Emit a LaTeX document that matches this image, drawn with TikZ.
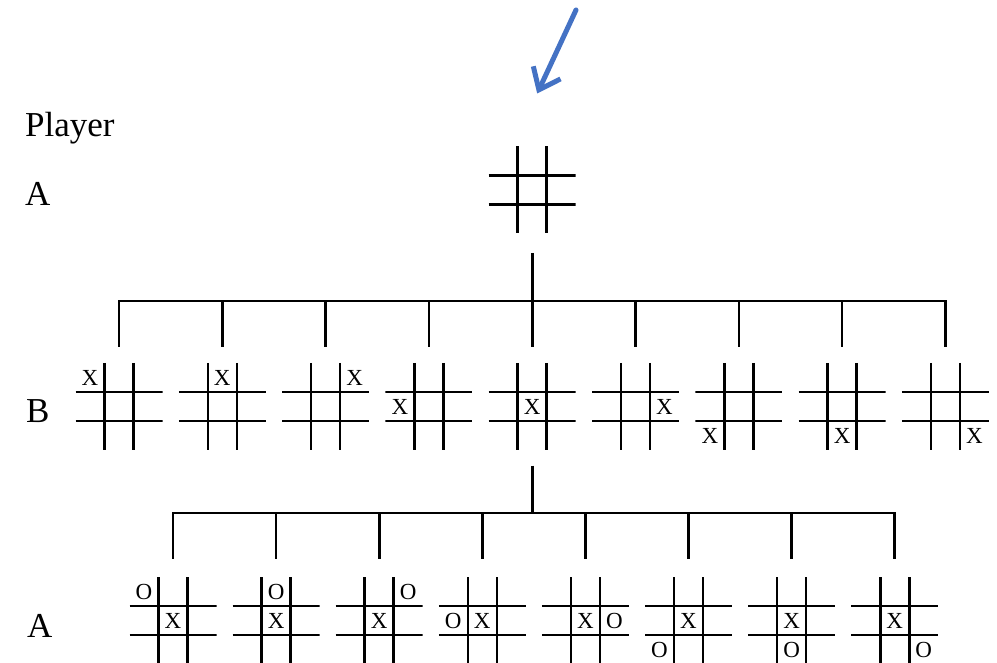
\documentclass[tikz,border=0pt]{standalone}
\usepackage{fontspec}
\setmainfont{Liberation Serif}
\usepackage{tikz}
\usetikzlibrary{arrows.meta, positioning}
\definecolor{pointerblue}{HTML}{4472C4}

\begin{document}
\begin{tikzpicture}[
    x=1pt, y=1pt,
    gridline/.style={line width=2.6pt, draw=black},
    board/.style={
      rectangle,
      inner sep=0pt,
      outer sep=0pt,
      minimum size=87pt,
      path picture={
        \draw[gridline] ([xshift=-14.5pt]path picture bounding box.north) -- ([xshift=-14.5pt]path picture bounding box.south);
        \draw[gridline] ([xshift=14.5pt]path picture bounding box.north) -- ([xshift=14.5pt]path picture bounding box.south);
        \draw[gridline] ([yshift=14.5pt]path picture bounding box.west) -- ([yshift=14.5pt]path picture bounding box.east);
        \draw[gridline] ([yshift=-14.5pt]path picture bounding box.west) -- ([yshift=-14.5pt]path picture bounding box.east);
      }
    },
    cellmark/.style={inner sep=0pt, font=\fontsize{23}{25}\selectfont},
    player/.style={anchor=base west, inner sep=0pt, font=\fontsize{35}{40}\selectfont},
    branch/.style={line width=2.6pt, draw=black},
    pointer/.style={-{Straight Barb[length=19pt, width=30pt]}, line width=5pt, line cap=round, draw=pointerblue}
  ]
    \useasboundingbox (0,0) rectangle (997,-663);

    % player column
    \node[player] (lblplayer) at (25,-137) {Player};
    \node[player] (lbltop) at (25,-206) {A};
    \node[player] (lblmid) at (26,-422) {B};
    \node[player] (lblbot) at (27,-637) {A};

    % empty board and pointer
    \node[board] (root) at (532.2,-190) {};
    \coordinate (pointstart) at (576,-10);
    \draw[pointer] (pointstart) -- ([shift={(5pt,53pt)}]root.north);

    % first move
    \node[board] (b1) at (119,-406.5) {};
    \node[board, right=16.3pt of b1] (b2) {};
    \node[board, right=16.3pt of b2] (b3) {};
    \node[board, right=16.3pt of b3] (b4) {};
    \node[board, right=16.3pt of b4] (b5) {};
    \node[board, right=16.3pt of b5] (b6) {};
    \node[board, right=16.3pt of b6] (b7) {};
    \node[board, right=16.3pt of b7] (b8) {};
    \node[board, right=16.3pt of b8] (b9) {};

    \node[cellmark] (b1x) at ([shift={(-29pt,29pt)}]b1) {X};
    \node[cellmark] (b2x) at ([shift={(0pt,29pt)}]b2) {X};
    \node[cellmark] (b3x) at ([shift={(29pt,29pt)}]b3) {X};
    \node[cellmark] (b4x) at ([shift={(-29pt,0pt)}]b4) {X};
    \node[cellmark] (b5x) at (b5) {X};
    \node[cellmark] (b6x) at ([shift={(29pt,0pt)}]b6) {X};
    \node[cellmark] (b7x) at ([shift={(-29pt,-29pt)}]b7) {X};
    \node[cellmark] (b8x) at ([shift={(0pt,-29pt)}]b8) {X};
    \node[cellmark] (b9x) at ([shift={(29pt,-29pt)}]b9) {X};

    \coordinate (fork1) at ([yshift=-67.5pt]root.south);
    \draw[branch] ([yshift=-19.5pt]root.south) -- (fork1);
    \draw[branch] (fork1) -| ([yshift=16pt]b1.north);
    \draw[branch] (fork1) -| ([yshift=16pt]b2.north);
    \draw[branch] (fork1) -| ([yshift=16pt]b3.north);
    \draw[branch] (fork1) -| ([yshift=16pt]b4.north);
    \draw[branch] (fork1) -| ([yshift=16pt]b5.north);
    \draw[branch] (fork1) -| ([yshift=16pt]b6.north);
    \draw[branch] (fork1) -| ([yshift=16pt]b7.north);
    \draw[branch] (fork1) -| ([yshift=16pt]b8.north);
    \draw[branch] (fork1) -| ([yshift=16pt]b9.north);

    % second move
    \node[board] (a1) at (173,-620.5) {};
    \node[board, right=16.1pt of a1] (a2) {};
    \node[board, right=16.1pt of a2] (a3) {};
    \node[board, right=16.1pt of a3] (a4) {};
    \node[board, right=16.1pt of a4] (a5) {};
    \node[board, right=16.1pt of a5] (a6) {};
    \node[board, right=16.1pt of a6] (a7) {};
    \node[board, right=16.1pt of a7] (a8) {};

    \node[cellmark] (a1x) at (a1) {X};
    \node[cellmark] (a2x) at (a2) {X};
    \node[cellmark] (a3x) at (a3) {X};
    \node[cellmark] (a4x) at (a4) {X};
    \node[cellmark] (a5x) at (a5) {X};
    \node[cellmark] (a6x) at (a6) {X};
    \node[cellmark] (a7x) at (a7) {X};
    \node[cellmark] (a8x) at (a8) {X};
    \node[cellmark] (a1o) at ([shift={(-29pt,29pt)}]a1) {O};
    \node[cellmark] (a2o) at ([shift={(0pt,29pt)}]a2) {O};
    \node[cellmark] (a3o) at ([shift={(29pt,29pt)}]a3) {O};
    \node[cellmark] (a4o) at ([shift={(-29pt,0pt)}]a4) {O};
    \node[cellmark] (a5o) at ([shift={(29pt,0pt)}]a5) {O};
    \node[cellmark] (a6o) at ([shift={(-29pt,-29pt)}]a6) {O};
    \node[cellmark] (a7o) at ([shift={(0pt,-29pt)}]a7) {O};
    \node[cellmark] (a8o) at ([shift={(29pt,-29pt)}]a8) {O};

    \coordinate (fork2) at ([yshift=-63pt]b5.south);
    \draw[branch] ([yshift=-15.5pt]b5.south) -- (fork2);
    \draw[branch] (fork2) -| ([yshift=18pt]a1.north);
    \draw[branch] (fork2) -| ([yshift=18pt]a2.north);
    \draw[branch] (fork2) -| ([yshift=18pt]a3.north);
    \draw[branch] (fork2) -| ([yshift=18pt]a4.north);
    \draw[branch] (fork2) -| ([yshift=18pt]a5.north);
    \draw[branch] (fork2) -| ([yshift=18pt]a6.north);
    \draw[branch] (fork2) -| ([yshift=18pt]a7.north);
    \draw[branch] (fork2) -| ([yshift=18pt]a8.north);
  \end{tikzpicture}
\end{document}
